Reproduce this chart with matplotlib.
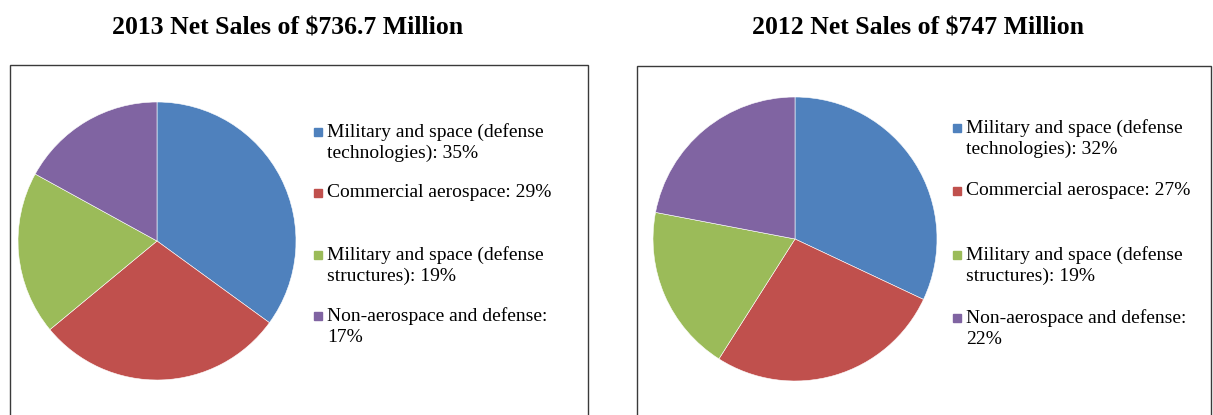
import matplotlib
matplotlib.use("Agg")
import matplotlib.pyplot as plt
from matplotlib.patches import Rectangle

W, H = 1213, 415

# data
colors = ['#4F81BD', '#C0504D', '#9BBB59', '#8064A2']
titles = ['2013 Net Sales of $736.7 Million', '2012 Net Sales of $747 Million']
shares_2013 = [35, 29, 19, 17]
shares_2012 = [32, 27, 19, 22]
labels_2013 = ['Military and space (defense\ntechnologies): 35%',
               'Commercial aerospace: 29%',
               'Military and space (defense\nstructures): 19%',
               'Non-aerospace and defense:\n17%']
labels_2012 = ['Military and space (defense\ntechnologies): 32%',
               'Commercial aerospace: 27%',
               'Military and space (defense\nstructures): 19%',
               'Non-aerospace and defense:\n22%']

plt.rcParams['font.family'] = ['Liberation Serif', 'DejaVu Serif']

fig = plt.figure(figsize=(W / 100, H / 100), dpi=100)


def fx(px):
    return px / W


def fy(py):
    return 1 - py / H


# layout of each panel in pixels
panels = [
    dict(shares=shares_2013, labels=labels_2013, title=titles[0], title_x=288,
         box=(10, 65, 588), pie=(157, 241, 139), leg_x=318,
         leg_y=[132, 193, 255, 316]),
    dict(shares=shares_2012, labels=labels_2012, title=titles[1], title_x=918,
         box=(637, 66, 1211), pie=(795, 239, 142), leg_x=957,
         leg_y=[128, 191, 255, 318]),
]

for p in panels:
    fig.text(fx(p['title_x']), fy(28), p['title'], ha='center', va='center',
             fontsize=18.5, fontweight='bold')
    x0, y0, x1 = p['box']
    fig.patches.append(Rectangle((fx(x0), fy(H + 5)), fx(x1 - x0), fy(y0) - fy(H + 5),
                                 transform=fig.transFigure, fill=False,
                                 edgecolor='#3a3a3a', linewidth=1.0))
    cx, cy, r = p['pie']
    ax = fig.add_axes([fx(cx - r), fy(cy + r), fx(2 * r), fy(cy - r) - fy(cy + r)])
    ax.pie(p['shares'], colors=colors, startangle=90, counterclock=False,
           wedgeprops=dict(linewidth=0.4, edgecolor='white'))
    ax.set_xlim(-1, 1)
    ax.set_ylim(-1, 1)
    ax.axis('off')
    for lab, col, ly in zip(p['labels'], colors, p['leg_y']):
        fig.patches.append(Rectangle((fx(p['leg_x'] - 4), fy(ly + 4)), fx(8), fy(ly - 4) - fy(ly + 4),
                                     transform=fig.transFigure, color=col))
        fig.text(fx(p['leg_x'] + 9), fy(ly - 9), lab, ha='left', va='top',
                 fontsize=14, linespacing=1.32)

fig.savefig('out.png', dpi=100, facecolor='white')
